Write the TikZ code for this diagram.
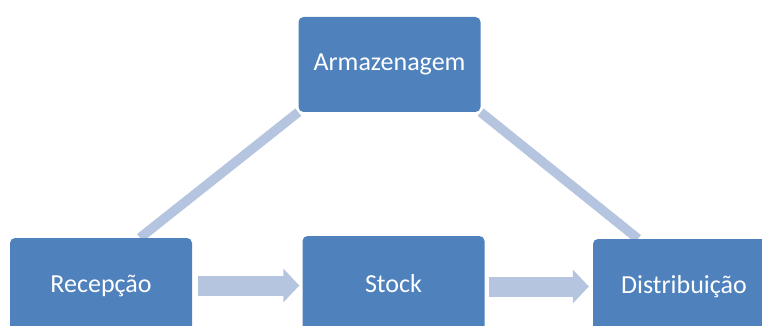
\documentclass[tikz,border=0pt]{standalone}
\usepackage{fontspec}
\setmainfont{Carlito}
\usetikzlibrary{arrows.meta,backgrounds}
\definecolor{caixa}{RGB}{79,129,189}
\definecolor{ligacao}{RGB}{181,196,223}

\begin{document}
\begin{tikzpicture}[x=1pt,y=-1pt,
	etapa/.style={rectangle,rounded corners=5pt,fill=caixa,text=white,minimum width=182pt,minimum height=95pt,inner sep=0pt,font=\fontsize{26}{30}\selectfont},
	traco/.style={ligacao,line width=9.5pt},
	seta/.style={ligacao,line width=20pt,-{Triangle[length=16pt,width=33pt]}}]
	\useasboundingbox (0,0) rectangle (762,326);
	\clip (0,0) rectangle (762,326);
	\foreach \N/\X/\Y/\T in {arm/389.5/64.5/Armazenagem, rec/101/285.5/Recepção, sto/393.5/283.5/Stock, dis/684/286.5/Distribuição
	}
	{\node[etapa] (\N) at (\X,\Y) {\T};}
	\begin{scope}[on background layer]
		\draw[traco] ([xshift=39pt]rec.north) -- (arm.south west);
		\draw[traco] (arm.south east) -- ([xshift=-46pt]dis.north);
	\end{scope}
	\draw[seta,shorten <=6pt,shorten >=3pt] (rec.east) -- (rec.east -| sto.west);
	\draw[seta,shorten <=4pt,shorten >=4pt] (sto.east |- dis.west) -- (dis.west);
\end{tikzpicture}
\end{document}
